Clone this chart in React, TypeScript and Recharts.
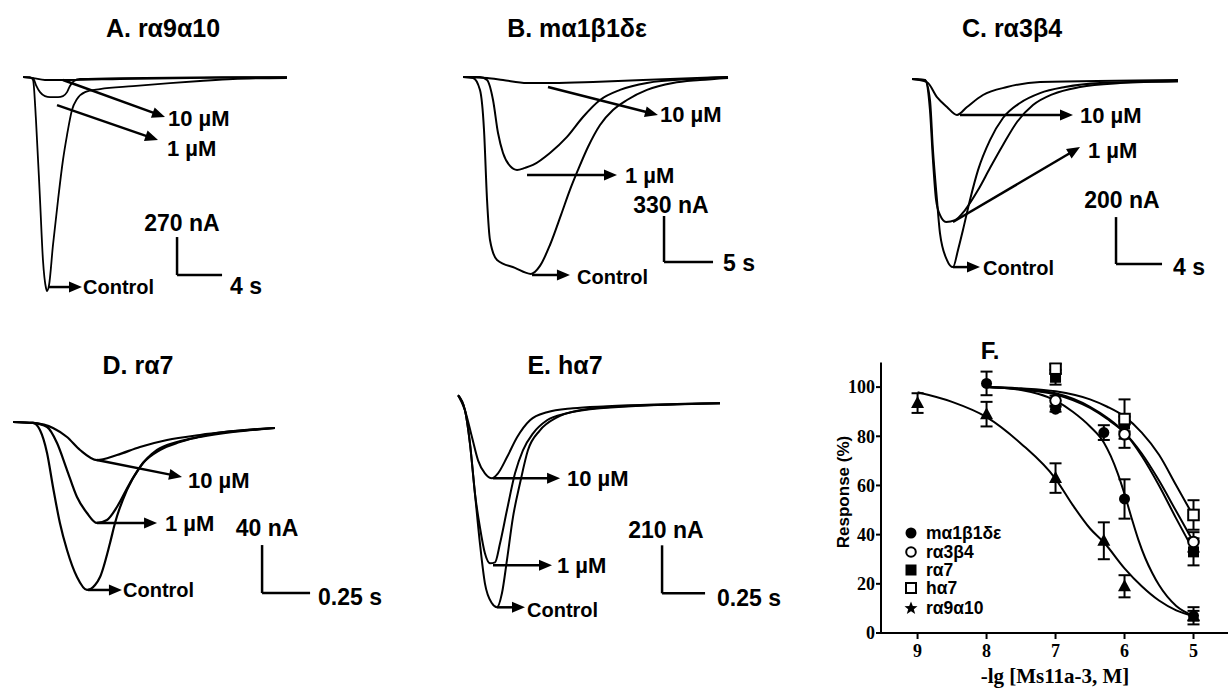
import React from 'react';
import { LineChart, Line, XAxis, YAxis, ReferenceLine, ComposedChart, Scatter, ErrorBar } from 'recharts';

type Pt = { t: number; i: number };
type Seg = [[number, number], [number, number]];

// rows are [time (s), current (nA)]
const pts = (rows: number[][]): Pt[] => rows.map(([t, i]) => ({ t, i }));

// ---- A. ra9a10 (270 nA / 4 s) ----
const aControl = pts([[0.27, 0], [0.89, 0], [1.16, -21], [1.42, -305], [1.78, -873], [2.04, -1299], [2.31, -1498], [2.4, -1519], [2.58, -1477], [2.93, -1193], [3.38, -873], [3.82, -589], [4.18, -412], [4.62, -234], [5.07, -156], [5.78, -107], [7.11, -85], [10.04, -64], [13.33, -43], [16, -28], [18.93, -14], [23.73, -7]]);
const aOne = pts([[0.27, 0], [1.16, -7], [1.42, -57], [1.78, -107], [2.22, -135], [2.67, -142], [3.38, -142], [3.82, -135], [4.18, -107], [4.44, -64], [4.8, -28], [5.33, -14], [8.89, -7], [23.73, 0]]);
const aTen = pts([[0.27, 0], [1.16, -7], [2.22, -21], [4.44, -21], [8.89, -14], [23.73, 0]]);
const aArrows: Seg[] = [[[3.82, -21], [12.89, -284]], [[3.29, -199], [12.27, -447]], [[2.49, -1491], [5.51, -1491]]];
const aBar = { t: 13.96, top: -1136, nA: 270, s: 4 };

// ---- B. ma1b1de (330 nA / 5 s) ----
const bControl = pts([[0.31, 0], [1.33, -7], [2.04, -93], [2.45, -380], [2.76, -882], [3.06, -1169], [3.78, -1312], [5.61, -1369], [7.24, -1412], [8.16, -1355], [9.18, -1205], [10.31, -989], [11.22, -810], [12.04, -667], [13.06, -502], [14.29, -344], [15.61, -237], [17.04, -165], [19.08, -93], [21.73, -43], [24.49, -22], [27.35, -7]]);
const bOne = pts([[0.31, 0], [2.04, 0], [2.76, -22], [3.37, -165], [3.88, -402], [4.39, -545], [5.1, -638], [5.82, -667], [6.63, -652], [7.45, -631], [9.18, -545], [10.92, -430], [12.55, -287], [14.29, -165], [16.33, -93], [19.08, -43], [23.78, -14], [27.35, 0]]);
const bTen = pts([[0.31, 0], [2.76, -7], [4.39, -22], [6.84, -43], [9.49, -43], [13.57, -36], [18.67, -22], [27.35, 0]]);
const bArrows: Seg[] = [[[8.98, -72], [20.2, -272]], [[6.84, -703], [16.02, -703]], [[7.35, -1420], [11.22, -1420]]];
const bBar = { t: 20.82, top: -997, nA: 330, s: 5 };

// ---- C. ra3b4 (200 nA / 4 s) ----
const cControl = pts([[0.61, 0], [1.74, -4], [2.17, -89], [2.43, -302], [2.78, -515], [3.04, -656], [3.65, -771], [4.17, -801], [4.61, -728], [5.04, -643], [5.65, -515], [6.35, -388], [7.39, -260], [8.52, -166], [10, -102], [11.74, -60], [13.91, -34], [16.96, -17], [23.74, -9]]);
const cOne = pts([[0.61, 0], [1.74, -4], [2.17, -132], [2.43, -345], [2.7, -515], [3.04, -579], [3.57, -609], [4.35, -601], [5.22, -558], [6.35, -473], [7.39, -379], [8.52, -281], [9.74, -183], [11.13, -111], [12.87, -64], [15.22, -34], [18.7, -17], [23.74, -9]]);
const cTen = pts([[0.61, 0], [1.91, -13], [2.78, -77], [3.65, -119], [4.52, -153], [5.39, -119], [6.78, -68], [8.87, -34], [11.74, -13], [23.74, -4]]);
const cArrows: Seg[] = [[[4.78, -153], [14.61, -153]], [[4.17, -609], [15.22, -290]], [[4.17, -801], [6.52, -801]]];
const cBar = { t: 18.35, top: -588, nA: 200, s: 4 };

// ---- D. ra7 (40 nA / 0.25 s) ----
const dControl = pts([[0.042, 0], [0.146, -0.8], [0.182, -6.7], [0.219, -25.8], [0.25, -54.1], [0.286, -84.1], [0.323, -106.6], [0.375, -129.1], [0.427, -139.9], [0.469, -135.8], [0.495, -129.1], [0.547, -100.8], [0.573, -84.1], [0.635, -56.6], [0.703, -37.5], [0.792, -23.3], [0.896, -16.7], [1.016, -12.5], [1.188, -8.3], [1.406, -5]]);
const dOne = pts([[0.042, 0], [0.146, -0.8], [0.219, -4.2], [0.271, -17.5], [0.323, -40], [0.375, -62.5], [0.427, -75.8], [0.479, -84.1], [0.531, -81.6], [0.583, -70.8], [0.651, -50.8], [0.719, -34.2], [0.807, -23.3], [0.911, -16.7], [1.052, -10.8], [1.406, -5]]);
const dTen = pts([[0.042, 0], [0.146, -0.8], [0.25, -5], [0.323, -12.5], [0.391, -23.3], [0.479, -31.7], [0.583, -27.5], [0.703, -20.8], [0.844, -15], [1.016, -10.8], [1.406, -5]]);
const dArrows: Seg[] = [[[0.479, -31.7], [0.922, -45.8]], [[0.479, -84.1], [0.792, -84.1]], [[0.432, -139.9], [0.609, -139.9]]];
const dBar = { t: 1.339, top: -102.5, nA: 40, s: 0.25 };

// ---- E. ha7 (210 nA / 0.25 s) ----
const eControl = pts([[0.047, 35], [0.087, -30.6], [0.116, -175], [0.145, -393.8], [0.174, -612.5], [0.203, -787.5], [0.244, -875], [0.273, -892.5], [0.302, -831.3], [0.331, -686.9], [0.366, -498.8], [0.407, -350], [0.453, -205.6], [0.523, -118.1], [0.622, -61.3], [0.756, -30.6], [0.913, -17.5], [1.57, 0]]);
const eOne = pts([[0.047, 35], [0.087, -30.6], [0.116, -175], [0.145, -393.8], [0.174, -542.5], [0.203, -656.3], [0.233, -700], [0.262, -695.6], [0.291, -612.5], [0.331, -468.1], [0.378, -306.3], [0.424, -205.6], [0.483, -131.3], [0.564, -74.4], [0.68, -43.8], [0.872, -21.9], [1.57, 0]]);
const eTen = pts([[0.047, 35], [0.087, -30.6], [0.128, -148.8], [0.163, -249.4], [0.203, -306.3], [0.244, -328.1], [0.279, -306.3], [0.331, -236.3], [0.39, -148.8], [0.465, -74.4], [0.564, -39.4], [0.715, -21.9], [0.913, -13.1], [1.57, 0]]);
const eArrows: Seg[] = [[[0.25, -328.1], [0.64, -328.1]], [[0.25, -708.8], [0.593, -708.8]], [[0.273, -892.5], [0.436, -892.5]]];
const eBar = { t: 1.233, top: -621.3, nA: 210, s: 0.25 };

// ---- F. concentration-response, x = -lg[Ms11a-3, M], y = response (%) ----
const fTicksX = [9, 8, 7, 6, 5];
const fTicksY = [0, 20, 40, 60, 80, 100];

const ma1Pts = [{ x: 8, y: 101.5, e: 4.8 }, { x: 7, y: 91, e: 1 }, { x: 6.3, y: 81.5, e: 3 }, { x: 6, y: 54.5, e: 8 }, { x: 5, y: 7, e: 3.5 }];
const a3b4Pts = [{ x: 7, y: 94.5, e: 2 }, { x: 6, y: 80.8, e: 5.5 }, { x: 5, y: 37, e: 4 }];
const r7Pts = [{ x: 7, y: 104, e: 3 }, { x: 6, y: 85, e: 3 }, { x: 5, y: 33, e: 5.5 }];
const h7Pts = [{ x: 7, y: 107.5, e: 2 }, { x: 6, y: 87, e: 8 }, { x: 5, y: 48, e: 6 }];
const a9Pts = [{ x: 9, y: 93.5, e: 4 }, { x: 8, y: 89, e: 5 }, { x: 7, y: 63, e: 6 }, { x: 6.3, y: 37.5, e: 7.5 }, { x: 6, y: 19, e: 4.5 }, { x: 5, y: 7, e: 2 }];

const ma1Fit = [{ x: 8, y: 100 }, { x: 7.5, y: 98.8 }, { x: 7, y: 94.5 }, { x: 6.75, y: 90 }, { x: 6.5, y: 84 }, { x: 6.3, y: 77.5 }, { x: 6.2, y: 72 }, { x: 6.1, y: 65 }, { x: 6, y: 56.5 }, { x: 5.9, y: 47 }, { x: 5.8, y: 38 }, { x: 5.7, y: 30.5 }, { x: 5.6, y: 24.5 }, { x: 5.5, y: 19.5 }, { x: 5.25, y: 11 }, { x: 5, y: 7 }];
const a3b4Fit = [{ x: 8, y: 100 }, { x: 7.5, y: 99 }, { x: 7, y: 97 }, { x: 6.5, y: 91.5 }, { x: 6.25, y: 87 }, { x: 6, y: 81.5 }, { x: 5.75, y: 73 }, { x: 5.5, y: 62 }, { x: 5.25, y: 49.5 }, { x: 5, y: 37 }];
const r7Fit = [{ x: 8, y: 100 }, { x: 7.5, y: 99.2 }, { x: 7, y: 97.5 }, { x: 6.5, y: 92 }, { x: 6.25, y: 87.5 }, { x: 6, y: 81.5 }, { x: 5.75, y: 72 }, { x: 5.5, y: 60 }, { x: 5.25, y: 46.5 }, { x: 5, y: 33.5 }];
const h7Fit = [{ x: 8, y: 100 }, { x: 7.5, y: 99.5 }, { x: 7, y: 98.3 }, { x: 6.5, y: 95 }, { x: 6.25, y: 92 }, { x: 6, y: 88 }, { x: 5.75, y: 81.5 }, { x: 5.5, y: 72.5 }, { x: 5.25, y: 60 }, { x: 5, y: 47.5 }];
const a9Fit = [{ x: 9, y: 97.9 }, { x: 8.5, y: 94 }, { x: 8, y: 87.8 }, { x: 7.5, y: 77 }, { x: 7, y: 62.7 }, { x: 6.75, y: 52 }, { x: 6.5, y: 42.5 }, { x: 6.3, y: 36.9 }, { x: 6, y: 26.3 }, { x: 5.75, y: 19 }, { x: 5.5, y: 13.2 }, { x: 5.25, y: 9.2 }, { x: 5, y: 6.8 }];

const SANS = '"Liberation Sans", Arial, sans-serif';
const SERIF = '"Liberation Serif", "Times New Roman", serif';

const ArrowShape = (p: any) => {
  const { x1, y1, x2, y2 } = p;
  const dx = x2 - x1;
  const dy = y2 - y1;
  const len = Math.hypot(dx, dy) || 1;
  const ux = dx / len;
  const uy = dy / len;
  const hl = 13;
  const hw = 5.5;
  const bx = x2 - ux * hl;
  const by = y2 - uy * hl;
  return (
    <g>
      <line x1={x1} y1={y1} x2={bx + ux} y2={by + uy} stroke="#000" strokeWidth={2.5} />
      <polygon points={`${x2},${y2} ${bx - uy * hw},${by + ux * hw} ${bx + uy * hw},${by - ux * hw}`} fill="#000" />
    </g>
  );
};

interface PanelProps {
  left: number;
  top: number;
  width: number;
  height: number;
  xDomain: [number, number];
  yDomain: [number, number];
  traces: Pt[][];
  arrows: Seg[];
  bar: { t: number; top: number; nA: number; s: number };
  lineWidth?: number;
}

const TracePanel = ({ left, top, width, height, xDomain, yDomain, traces, arrows, bar, lineWidth = 1.8 }: PanelProps) => (
  <div style={{ position: 'absolute', left, top }}>
    <LineChart width={width} height={height} margin={{ top: 0, right: 0, bottom: 0, left: 0 }}>
      <XAxis type="number" dataKey="t" domain={xDomain} hide allowDataOverflow />
      <YAxis type="number" domain={yDomain} hide allowDataOverflow />
      {traces.map((d, k) => (
        <Line key={k} data={d} dataKey="i" type="monotone" dot={false} activeDot={false} stroke="#000" strokeWidth={lineWidth} isAnimationActive={false} />
      ))}
      {arrows.map((a, k) => (
        <ReferenceLine key={'a' + k} segment={[{ x: a[0][0], y: a[0][1] }, { x: a[1][0], y: a[1][1] }]} shape={ArrowShape} />
      ))}
      <ReferenceLine segment={[{ x: bar.t, y: bar.top }, { x: bar.t, y: bar.top - bar.nA }]} stroke="#000" strokeWidth={2.5} />
      <ReferenceLine segment={[{ x: bar.t, y: bar.top - bar.nA }, { x: bar.t + bar.s, y: bar.top - bar.nA }]} stroke="#000" strokeWidth={2.5} />
    </LineChart>
  </div>
);

const FilledCircle = (p: any) => <circle cx={p.cx} cy={p.cy} r={5.5} fill="#000" />;
const OpenCircle = (p: any) => <circle cx={p.cx} cy={p.cy} r={5.3} fill="#fff" stroke="#000" strokeWidth={2} />;
const FilledSquare = (p: any) => <rect x={p.cx - 5.5} y={p.cy - 5.5} width={11} height={11} fill="#000" />;
const OpenSquare = (p: any) => <rect x={p.cx - 5.3} y={p.cy - 5.3} width={10.6} height={10.6} fill="#fff" stroke="#000" strokeWidth={2} />;
const Triangle = (p: any) => <polygon points={`${p.cx},${p.cy - 7} ${p.cx - 6.5},${p.cy + 5} ${p.cx + 6.5},${p.cy + 5}`} fill="#000" />;

const T = ({ x, y, size, anchor = 'start', family = SANS, children }: any) => (
  <text x={x} y={y} fontSize={size} fontWeight="bold" fontFamily={family} textAnchor={anchor} dominantBaseline="central" fill="#000">
    {children}
  </text>
);

const legendRows = [
  { label: 'mα1β1δε', y: 533, mark: <circle cx={6} cy={6} r={5.5} fill="#000" /> },
  { label: 'rα3β4', y: 552, mark: <circle cx={6} cy={6} r={4.8} fill="#fff" stroke="#000" strokeWidth={2} /> },
  { label: 'rα7', y: 570, mark: <rect x={0.5} y={0.5} width={11} height={11} fill="#000" /> },
  { label: 'hα7', y: 588, mark: <rect x={1} y={1} width={10} height={10} fill="#fff" stroke="#000" strokeWidth={2} /> },
  { label: 'rα9α10', y: 608, mark: <polygon points="6,-0.5 7.8,4 12.5,4.2 8.8,7.2 10.2,12 6,9.2 1.8,12 3.2,7.2 -0.5,4.2 4.2,4" fill="#000" /> },
];

const axisStroke = { stroke: '#000', strokeWidth: 2 };
const tickFont = { fill: '#000', fontSize: 18, fontWeight: 'bold', fontFamily: SERIF };

export default function App() {
  return (
    <div style={{ position: 'absolute', left: 0, top: 0, width: 1228, height: 689, background: '#fff', overflow: 'hidden' }}>
      <TracePanel left={20} top={69.96} width={270} height={232.4} xDomain={[0, 24]} yDomain={[-1600, 50]} traces={[aControl, aOne, aTen]} arrows={aArrows} bar={aBar} />
      <TracePanel left={460} top={70.03} width={274.4} height={230.1} xDomain={[0, 28]} yDomain={[-1600, 50]} traces={[bControl, bOne, bTen]} arrows={bArrows} bar={bBar} lineWidth={2} />
      <TracePanel left={905} top={71.96} width={299} height={241.8} xDomain={[0, 26]} yDomain={[-1000, 30]} traces={[cControl, cOne, cTen]} arrows={cArrows} bar={cBar} lineWidth={2} />
      <TracePanel left={5} top={410} width={307.2} height={204.1} xDomain={[0, 1.6]} yDomain={[-160, 10]} traces={[dControl, dOne, dTen]} arrows={dArrows} bar={dBar} lineWidth={2.2} />
      <TracePanel left={450} top={384.7} width={275.2} height={246.9} xDomain={[0, 1.6]} yDomain={[-1000, 80]} traces={[eControl, eOne, eTen]} arrows={eArrows} bar={eBar} lineWidth={2} />

      <div style={{ position: 'absolute', left: 820, top: 340 }}>
        <ComposedChart width={408} height={349} margin={{ top: 22.5, right: 0, bottom: 26, left: 21 }}>
          <XAxis
            type="number"
            dataKey="x"
            domain={[4.5, 9.53]}
            reversed
            allowDataOverflow
            ticks={fTicksX}
            height={30}
            tickSize={6}
            tickMargin={5}
            axisLine={axisStroke}
            tickLine={axisStroke}
            tick={tickFont}
          />
          <YAxis
            type="number"
            dataKey="y"
            domain={[0, 110]}
            allowDataOverflow
            ticks={fTicksY}
            width={40}
            tickSize={5}
            tickMargin={1}
            axisLine={axisStroke}
            tickLine={axisStroke}
            tick={tickFont}
          />
          <Line data={a9Fit} dataKey="y" type="monotone" dot={false} activeDot={false} stroke="#000" strokeWidth={2} isAnimationActive={false} />
          <Line data={ma1Fit} dataKey="y" type="monotone" dot={false} activeDot={false} stroke="#000" strokeWidth={2} isAnimationActive={false} />
          <Line data={a3b4Fit} dataKey="y" type="monotone" dot={false} activeDot={false} stroke="#000" strokeWidth={2} isAnimationActive={false} />
          <Line data={r7Fit} dataKey="y" type="monotone" dot={false} activeDot={false} stroke="#000" strokeWidth={2} isAnimationActive={false} />
          <Line data={h7Fit} dataKey="y" type="monotone" dot={false} activeDot={false} stroke="#000" strokeWidth={2} isAnimationActive={false} />
          <Scatter data={ma1Pts} dataKey="y" shape={FilledCircle} isAnimationActive={false}>
            <ErrorBar dataKey="e" direction="y" width={6} stroke="#000" strokeWidth={2} />
          </Scatter>
          <Scatter data={r7Pts} dataKey="y" shape={FilledSquare} isAnimationActive={false}>
            <ErrorBar dataKey="e" direction="y" width={6} stroke="#000" strokeWidth={2} />
          </Scatter>
          <Scatter data={h7Pts} dataKey="y" shape={OpenSquare} isAnimationActive={false}>
            <ErrorBar dataKey="e" direction="y" width={6} stroke="#000" strokeWidth={2} />
          </Scatter>
          <Scatter data={a3b4Pts} dataKey="y" shape={OpenCircle} isAnimationActive={false}>
            <ErrorBar dataKey="e" direction="y" width={6} stroke="#000" strokeWidth={2} />
          </Scatter>
          <Scatter data={a9Pts} dataKey="y" shape={Triangle} isAnimationActive={false}>
            <ErrorBar dataKey="e" direction="y" width={6} stroke="#000" strokeWidth={2} />
          </Scatter>
        </ComposedChart>
      </div>

      {legendRows.map((r) => (
        <div key={r.label} style={{ position: 'absolute', left: 905, top: r.y - 8, height: 16, display: 'flex', alignItems: 'center', fontFamily: SANS, fontWeight: 'bold', fontSize: 17.5, lineHeight: '16px', color: '#000' }}>
          <svg width={12} height={12} style={{ marginRight: 9, overflow: 'visible' }}>{r.mark}</svg>
          <span>{r.label}</span>
        </div>
      ))}

      <svg width={1228} height={689} style={{ position: 'absolute', left: 0, top: 0, pointerEvents: 'none' }}>
        <T x={163} y={28} size={25} anchor="middle">A. rα9α10</T>
        <T x={168} y={118} size={22}>10 µM</T>
        <T x={167} y={148} size={22}>1 µM</T>
        <T x={83} y={287} size={20}>Control</T>
        <T x={182} y={223} size={23} anchor="middle">270 nA</T>
        <T x={230} y={286} size={23}>4 s</T>

        <T x={577} y={28} size={25} anchor="middle">B. mα1β1δε</T>
        <T x={660} y={114} size={22}>10 µM</T>
        <T x={625} y={175} size={22}>1 µM</T>
        <T x={577} y={277} size={20}>Control</T>
        <T x={671} y={205} size={23} anchor="middle">330 nA</T>
        <T x={723} y={263} size={23}>5 s</T>

        <T x={1012} y={28} size={25} anchor="middle">C. rα3β4</T>
        <T x={1080} y={115} size={22}>10 µM</T>
        <T x={1088} y={150} size={22}>1 µM</T>
        <T x={983} y={268} size={20}>Control</T>
        <T x={1122} y={200} size={23} anchor="middle">200 nA</T>
        <T x={1173} y={267} size={23}>4 s</T>

        <T x={138} y={365} size={25} anchor="middle">D. rα7</T>
        <T x={188} y={480} size={22}>10 µM</T>
        <T x={165} y={523} size={22}>1 µM</T>
        <T x={123} y={590} size={20}>Control</T>
        <T x={267} y={528} size={23} anchor="middle">40 nA</T>
        <T x={318} y={597} size={23}>0.25 s</T>

        <T x={565} y={365} size={25} anchor="middle">E. hα7</T>
        <T x={567} y={478} size={22}>10 µM</T>
        <T x={557} y={565} size={22}>1 µM</T>
        <T x={527} y={610} size={20}>Control</T>
        <T x={666} y={530} size={23} anchor="middle">210 nA</T>
        <T x={717} y={598} size={23}>0.25 s</T>

        <T x={990} y={350} size={24} anchor="middle">F.</T>
        <g transform="translate(843,492) rotate(-90)">
          <T x={0} y={0} size={17} anchor="middle">Response (%)</T>
        </g>
        <T x={1055} y={676} size={21} anchor="middle" family={SERIF}>-lg [Ms11a-3, M]</T>
      </svg>
    </div>
  );
}
